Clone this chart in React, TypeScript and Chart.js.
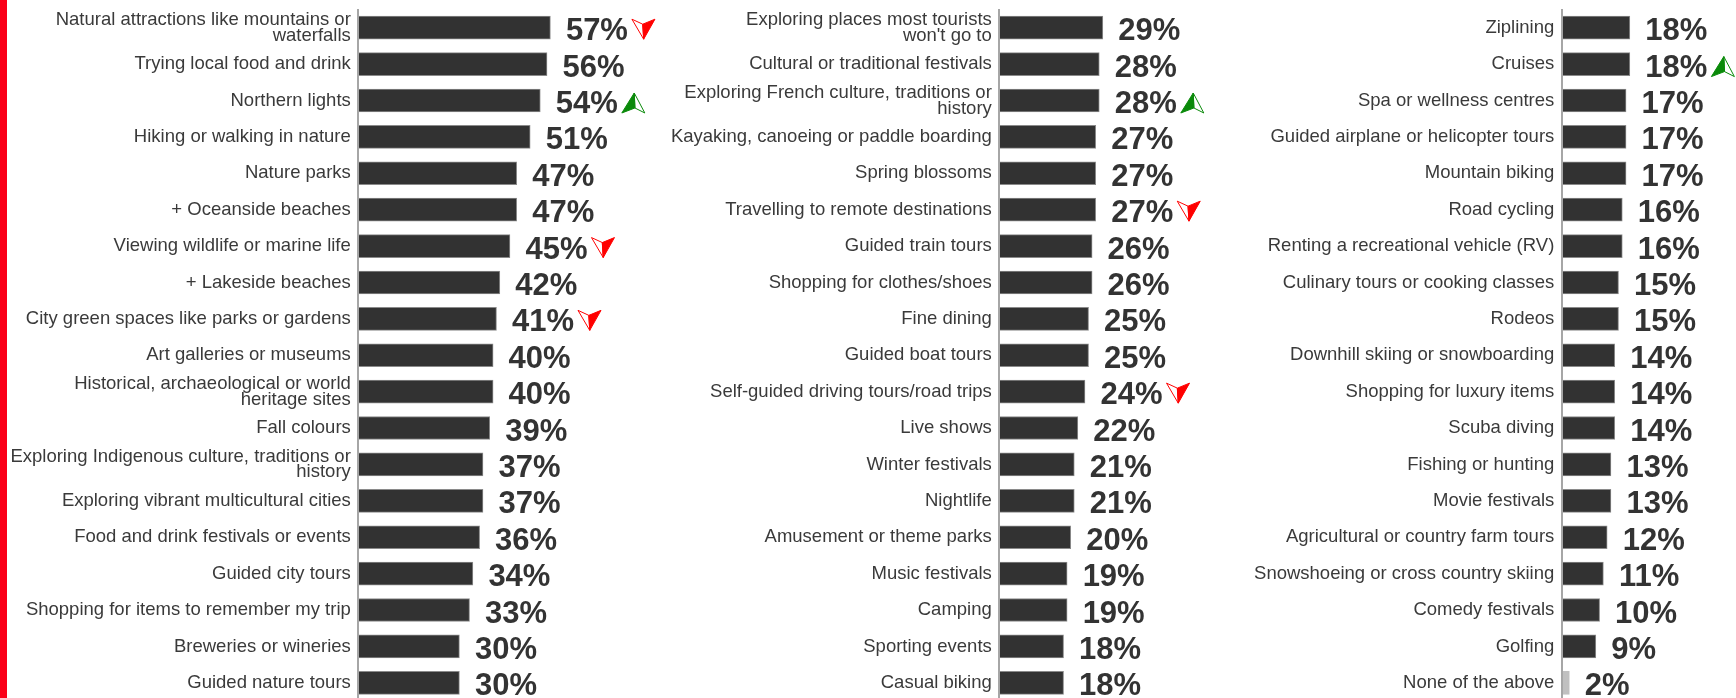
import React, { useEffect, useRef } from "react";
import { Chart, registerables } from "chart.js";

Chart.register(...registerables);

const FONT = "'Liberation Sans', Arial, Helvetica, sans-serif";

// ---------- DATA ----------
const categoriesLeft = [
  "Natural attractions like mountains or\nwaterfalls",
  "Trying local food and drink",
  "Northern lights",
  "Hiking or walking in nature",
  "Nature parks",
  "+ Oceanside beaches",
  "Viewing wildlife or marine life",
  "+ Lakeside beaches",
  "City green spaces like parks or gardens",
  "Art galleries or museums",
  "Historical, archaeological or world\nheritage sites",
  "Fall colours",
  "Exploring Indigenous culture, traditions or\nhistory",
  "Exploring vibrant multicultural cities",
  "Food and drink festivals or events",
  "Guided city tours",
  "Shopping for items to remember my trip",
  "Breweries or wineries",
  "Guided nature tours",
];
const valuesLeft = [57, 56, 54, 51, 47, 47, 45, 42, 41, 40, 40, 39, 37, 37, 36, 34, 33, 30, 30];
const trendsLeft = ["down", "", "up", "", "", "", "down", "", "down", "", "", "", "", "", "", "", "", "", ""];

const categoriesMiddle = [
  "Exploring places most tourists\nwon't go to",
  "Cultural or traditional festivals",
  "Exploring French culture, traditions or\nhistory",
  "Kayaking, canoeing or paddle boarding",
  "Spring blossoms",
  "Travelling to remote destinations",
  "Guided train tours",
  "Shopping for clothes/shoes",
  "Fine dining",
  "Guided boat tours",
  "Self-guided driving tours/road trips",
  "Live shows",
  "Winter festivals",
  "Nightlife",
  "Amusement or theme parks",
  "Music festivals",
  "Camping",
  "Sporting events",
  "Casual biking",
];
const valuesMiddle = [29, 28, 28, 27, 27, 27, 26, 26, 25, 25, 24, 22, 21, 21, 20, 19, 19, 18, 18];
const trendsMiddle = ["", "", "up", "", "", "down", "", "", "", "", "down", "", "", "", "", "", "", "", ""];

const categoriesRight = [
  "Ziplining",
  "Cruises",
  "Spa or wellness centres",
  "Guided airplane or helicopter tours",
  "Mountain biking",
  "Road cycling",
  "Renting a recreational vehicle (RV)",
  "Culinary tours or cooking classes",
  "Rodeos",
  "Downhill skiing or snowboarding",
  "Shopping for luxury items",
  "Scuba diving",
  "Fishing or hunting",
  "Movie festivals",
  "Agricultural or country farm tours",
  "Snowshoeing or cross country skiing",
  "Comedy festivals",
  "Golfing",
  "None of the above",
];
const valuesRight = [18, 18, 17, 17, 17, 16, 16, 15, 15, 14, 14, 14, 13, 13, 12, 11, 10, 9, 2];
const trendsRight = ["", "up", "", "", "", "", "", "", "", "", "", "", "", "", "", "", "", "", ""];

const mutedCategories = ["None of the above"];

// ---------- LAYOUT ----------
type Panel = {
  labels: string[];
  values: number[];
  trends: string[];
  left: number;
  right: number;
  axisX: number;
  pxPer: number;
};

const CANVAS_H = 701;
const TOP_PAD = 9.5;

const panels: Panel[] = [
  { labels: categoriesLeft, values: valuesLeft, trends: trendsLeft, left: 8, right: 660, axisX: 358.3, pxPer: 3.37 },
  { labels: categoriesMiddle, values: valuesMiddle, trends: trendsMiddle, left: 660, right: 1215, axisX: 999.3, pxPer: 3.57 },
  { labels: categoriesRight, values: valuesRight, trends: trendsRight, left: 1215, right: 1736, axisX: 1561.8, pxPer: 3.78 },
];

function drawArrow(ctx: CanvasRenderingContext2D, x: number, cy: number, dir: string) {
  const w = 23;
  const h = 20;
  const n = 5;
  const top = cy - h / 2;
  ctx.save();
  ctx.lineWidth = 1;
  ctx.lineJoin = "miter";
  if (dir === "down") {
    const color = "#ff0000";
    ctx.strokeStyle = color;
    ctx.fillStyle = color;
    const L = [x, top];
    const R = [x + w, top];
    const N = [x + w * 0.47, top + n];
    const T = [x + w * 0.51, top + h];
    ctx.beginPath();
    ctx.moveTo(L[0], L[1]);
    ctx.lineTo(N[0], N[1]);
    ctx.lineTo(T[0], T[1]);
    ctx.closePath();
    ctx.stroke();
    ctx.beginPath();
    ctx.moveTo(N[0], N[1]);
    ctx.lineTo(R[0], R[1]);
    ctx.lineTo(T[0], T[1]);
    ctx.closePath();
    ctx.fill();
    ctx.stroke();
  } else {
    const color = "#0a8a0a";
    ctx.strokeStyle = color;
    ctx.fillStyle = color;
    const T = [x + w * 0.54, top];
    const BL = [x, top + h];
    const BR = [x + w, top + h];
    const N = [x + w * 0.57, top + h - n];
    ctx.beginPath();
    ctx.moveTo(BL[0], BL[1]);
    ctx.lineTo(T[0], T[1]);
    ctx.lineTo(N[0], N[1]);
    ctx.closePath();
    ctx.fill();
    ctx.stroke();
    ctx.beginPath();
    ctx.moveTo(T[0], T[1]);
    ctx.lineTo(BR[0], BR[1]);
    ctx.lineTo(N[0], N[1]);
    ctx.closePath();
    ctx.stroke();
  }
  ctx.restore();
}

function makeValuePlugin(values: number[], trends: string[]) {
  return {
    id: "valueLabels",
    afterDatasetsDraw(chart: any) {
      const ctx: CanvasRenderingContext2D = chart.ctx;
      const meta = chart.getDatasetMeta(0);
      ctx.save();
      ctx.font = `bold 31px ${FONT}`;
      ctx.fillStyle = "#333333";
      ctx.textAlign = "left";
      ctx.textBaseline = "alphabetic";
      meta.data.forEach((bar: any, i: number) => {
        const text = `${values[i]}%`;
        const x = bar.x + 15.5;
        const y = bar.y + 12.6;
        ctx.fillText(text, x, y);
        const tw = ctx.measureText(text).width;
        const t = trends[i];
        if (t) drawArrow(ctx, x + tw + 4, bar.y + (t === "up" ? 2.5 : 1.5), t);
      });
      ctx.restore();
    },
  };
}

function BarPanel({ panel }: { panel: Panel }) {
  const ref = useRef<HTMLCanvasElement>(null);
  const width = panel.right - panel.left;

  useEffect(() => {
    if (!ref.current) return;
    const axisW = panel.axisX - panel.left;
    const xMax = (panel.right - panel.axisX) / panel.pxPer;
    const chart = new Chart(ref.current, {
      type: "bar",
      data: {
        labels: panel.labels.map((l) => l.split("\n")),
        datasets: [
          {
            data: panel.values,
            backgroundColor: (c: any) =>
              mutedCategories.includes(panel.labels[c.dataIndex]) ? "#c0c0c0" : "#323232",
            borderColor: (c: any) =>
              mutedCategories.includes(panel.labels[c.dataIndex]) ? "#c0c0c0" : "#8a8a8a",
            borderWidth: 1,
            borderSkipped: false,
            barThickness: 23,
          },
        ],
      },
      options: {
        indexAxis: "y",
        responsive: false,
        animation: false,
        events: [],
        layout: { padding: { top: TOP_PAD, bottom: 0, left: 0, right: 0 } },
        plugins: {
          legend: { display: false },
          tooltip: { enabled: false },
        },
        scales: {
          x: { display: false, min: 0, max: xMax },
          y: {
            grid: { display: false, drawTicks: false },
            border: { display: true, color: "#a6a6a6", width: 2, z: 1 },
            ticks: {
              autoSkip: false,
              padding: 7.5,
              color: "#3a3a3a",
              font: { family: FONT, size: 18.5, lineHeight: 0.86 },
            },
            afterFit: (s: any) => {
              s.width = axisW;
              s.paddingTop = 0;
              s.paddingBottom = 0;
            },
          },
        },
      } as any,
      plugins: [makeValuePlugin(panel.values, panel.trends)],
    });
    return () => chart.destroy();
  }, [panel]);

  return (
    <canvas
      ref={ref}
      width={width}
      height={CANVAS_H}
      style={{ position: "absolute", left: panel.left, top: 0, width, height: CANVAS_H }}
    />
  );
}

export default function App() {
  return (
    <div
      style={{
        position: "fixed",
        left: 0,
        top: 0,
        width: 1736,
        height: 698,
        overflow: "hidden",
        background: "#ffffff",
      }}
    >
      <div style={{ position: "absolute", left: 0, top: 0, width: 7, height: 698, background: "#fb0018" }} />
      {panels.map((p, i) => (
        <BarPanel key={i} panel={p} />
      ))}
    </div>
  );
}
